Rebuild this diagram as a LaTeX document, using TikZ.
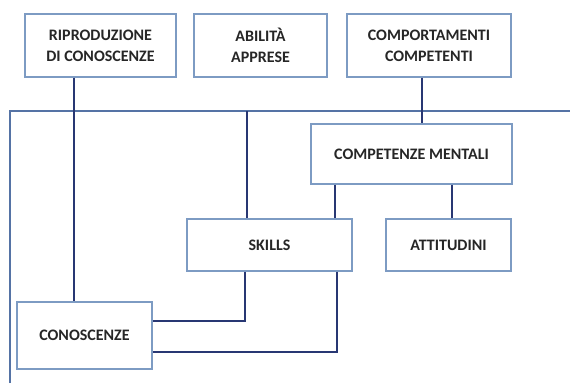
\documentclass[tikz,border=0pt]{standalone}
\usepackage{fontspec}
\setmainfont{Carlito}
\definecolor{boxblue}{RGB}{125,155,195}
\definecolor{frameblue}{RGB}{85,115,165}
\definecolor{linknavy}{RGB}{40,55,115}
\begin{document}
\begin{tikzpicture}[x=1pt,y=-1pt,
  box/.style={rectangle,draw=boxblue,line width=1.3pt,fill=white,
    align=center,font=\fontsize{16}{21}\selectfont\bfseries,text=black!85},
  link/.style={draw=linknavy,line width=1.1pt}]
  \useasboundingbox (0,0) rectangle (570,383);

  % frame
  \draw[frameblue,line width=1.1pt] (10,383) -- (10,111) -- (570,111);

  \node[box,minimum width=151pt,minimum height=63pt] (ripro) at (100.5,45.5)
    {RIPRODUZIONE\\DI CONOSCENZE};
  \node[box,minimum width=133pt,minimum height=63pt] (abilita) at (260.5,45.5)
    {ABILITÀ\\APPRESE};
  \node[box,minimum width=164pt,minimum height=63pt] (comport) at (429,45.5)
    {COMPORTAMENTI\\COMPETENTI};
  \node[box,minimum width=201pt,minimum height=60pt] (mentali) at (411.5,154)
    {COMPETENZE MENTALI};
  \node[box,minimum width=165pt,minimum height=52pt] (skills) at (269.5,245)
    {SKILLS};
  \node[box,minimum width=125pt,minimum height=52pt] (attitudini) at (448.5,245)
    {ATTITUDINI};
  \node[box,minimum width=135pt,minimum height=67pt] (conosc) at (84.5,335.5)
    {CONOSCENZE};

  \coordinate (c1) at (74,111);
  \coordinate (c2) at (247,111);
  \coordinate (c3) at (422,111);
  \coordinate (m1) at (335,200);
  \coordinate (m2) at (452,200);
  \coordinate (k1) at (245,321);
  \coordinate (k2) at (337,352);

  \draw[link] (ripro.south -| c1) -- (conosc.north -| c1);
  \draw[link] (c2) -- (skills.north -| c2);
  \draw[link] (comport.south -| c3) -- (mentali.north -| c3);
  \draw[link] (mentali.south -| m1) -- (skills.north -| m1);
  \draw[link] (mentali.south -| m2) -- (attitudini.north -| m2);
  \draw[link] (skills.south -| k1) -- (k1) -- (conosc.east |- k1);
  \draw[link] (skills.south -| k2) -- (k2) -- (conosc.east |- k2);

\end{tikzpicture}
\end{document}
